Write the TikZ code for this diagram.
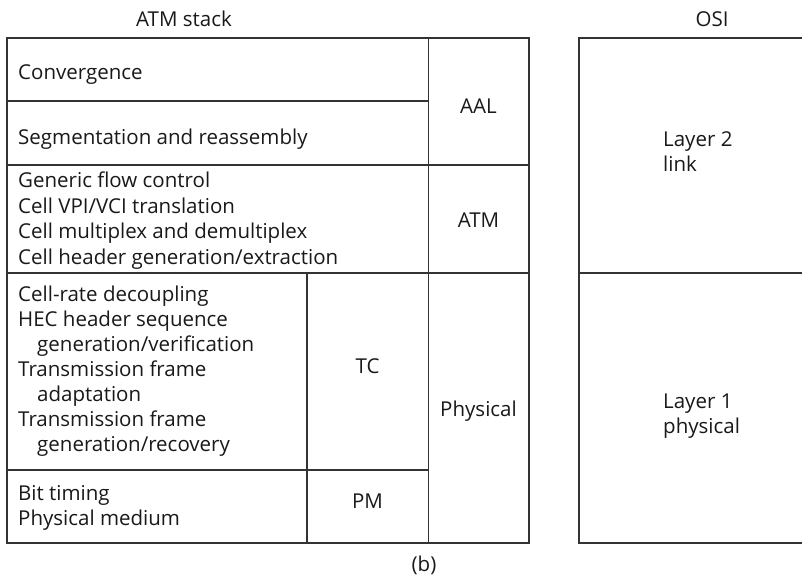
\documentclass[tikz,border=0pt]{standalone}
\usepackage{fontspec}
\setmainfont{Open Sans}
\begin{document}
\begin{tikzpicture}[x=1pt,y=-1pt,
  rulel/.style={draw=black!80, line width=1.2pt},
  txt/.style={anchor=base west, inner sep=0pt, yshift=-1.5pt, font=\fontsize{20.5}{24}\selectfont, text=black!90},
  lbl/.style={anchor=base, inner sep=0pt, yshift=-1.5pt, font=\fontsize{20.5}{24}\selectfont, text=black!90}]
\useasboundingbox (0,0) rectangle (802,580);
% left stack
\draw[rulel] (7,38) rectangle (529,543);
\draw[rulel] (428.7,38) -- (428.7,543);
\draw[rulel] (7,101) -- (428.7,101);
\draw[rulel] (7,165) -- (529,165);
\draw[rulel] (7,273) -- (529,273);
\draw[rulel] (7,470) -- (428.7,470);
\draw[rulel] (307,273) -- (307,543);
% OSI
\draw[rulel] (810,38) -- (579,38) -- (579,543) -- (810,543);
\draw[rulel] (579,273) -- (810,273);
% titles
\node[lbl] (tatm) at (184,25) {ATM stack};
\node[lbl] (tosi) at (712,25) {OSI};
\node[lbl] (tb) at (424,570) {(b)};
% AAL
\node[txt] (conv) at (18,78) {Convergence};
\node[txt] (seg) at (18,143) {Segmentation and reassembly};
\node[lbl] (aal) at (478.5,112) {AAL};
% ATM
\node[txt] (a1) at (18,186) {Generic flow control};
\node[txt] (a2) at (18,211.5) {Cell VPI/VCI translation};
\node[txt] (a3) at (18,237) {Cell multiplex and demultiplex};
\node[txt] (a4) at (18,262.5) {Cell header generation/extraction};
\node[lbl] (atm) at (478.5,226) {ATM};
% TC
\node[txt] (c1) at (18,300) {Cell-rate decoupling};
\node[txt] (c2) at (18,325) {HEC header sequence};
\node[txt] (c3) at (37,350) {generation/verification};
\node[txt] (c4) at (18,375) {Transmission frame};
\node[txt] (c5) at (37,400) {adaptation};
\node[txt] (c6) at (18,425) {Transmission frame};
\node[txt] (c7) at (37,450) {generation/recovery};
\node[lbl] (tc) at (367.5,372) {TC};
% PM
\node[txt] (p1) at (18,499) {Bit timing};
\node[txt] (p2) at (18,524) {Physical medium};
\node[lbl] (pm) at (367.5,507) {PM};
\node[lbl] (phys) at (478.5,415) {Physical};
% OSI layers
\node[txt] (l2a) at (663,145) {Layer 2};
\node[txt] (l2b) at (663,170) {link};
\node[txt] (l1a) at (663,407) {Layer 1};
\node[txt] (l1b) at (663,432) {physical};
\end{tikzpicture}
\end{document}
